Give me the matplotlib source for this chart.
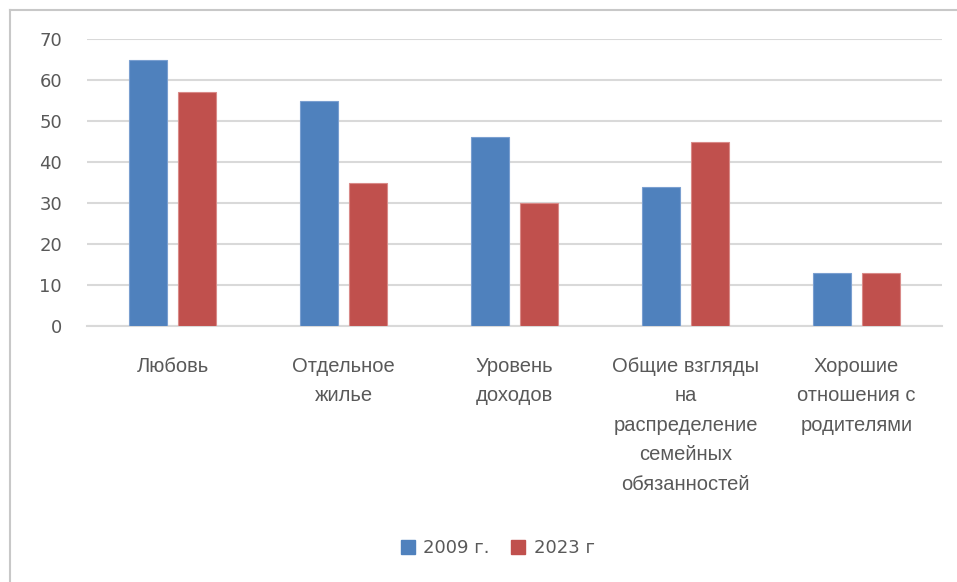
import numpy as np
import matplotlib.pyplot as plt
from matplotlib import font_manager
from matplotlib.lines import Line2D

categories = [
    "Любовь",
    "Отдельное\nжилье",
    "Уровень\nдоходов",
    "Общие взгляды\nна\nраспределение\nсемейных\nобязанностей",
    "Хорошие\nотношения с\nродителями",
]
values_2009 = [65, 55, 46, 34, 13]
values_2023 = [57, 35, 30, 45, 13]
series_labels = ["2009 г.", "2023 г"]
y_ticks = [0, 10, 20, 30, 40, 50, 60, 70]

BLUE = "#4f81bd"
RED = "#c0504d"
GRID = "#d9d9d9"
TEXT = "#595959"

names = {f.name for f in font_manager.fontManager.ttflist}
label_font = "Liberation Sans Narrow" if "Liberation Sans Narrow" in names else "Liberation Sans"

W, H = 957, 582
fig = plt.figure(figsize=(W / 100, H / 100), dpi=100)
ax = fig.add_axes([87 / W, 1 - 326 / H, (942 - 87) / W, (326 - 39) / H])

x = np.arange(len(categories))
bw = 0.222
off = 0.143
ax.bar(x - off, values_2009, bw, color=BLUE, edgecolor="#7a9fd0", linewidth=0.8, zorder=3)
ax.bar(x + off, values_2023, bw, color=RED, edgecolor="#d98a88", linewidth=0.8, zorder=3)

ax.set_xlim(-0.5, len(categories) - 0.5)
ax.set_ylim(0, 70)
ax.set_yticks(y_ticks)
ax.set_yticklabels([str(v) for v in y_ticks], fontsize=13, color=TEXT, family="DejaVu Sans")
ax.yaxis.grid(True, color=GRID, linewidth=1.5, zorder=0)
ax.tick_params(axis="y", length=0, pad=18)
ax.tick_params(axis="x", length=0, pad=22)
ax.set_xticks(x)
ax.set_xticklabels(categories, fontsize=14.5, color=TEXT, family=label_font,
                   linespacing=1.7, multialignment="center")
for s in ["top", "right", "left"]:
    ax.spines[s].set_visible(False)
ax.spines["bottom"].set_color(GRID)
ax.spines["bottom"].set_linewidth(1.5)

handles = [Line2D([], [], marker="s", linestyle="none", markersize=9.5, color=c) for c in (BLUE, RED)]
fig.legend(handles, series_labels, loc="center", bbox_to_anchor=(494 / W, 1 - 548 / H),
           ncol=2, frameon=False, handletextpad=0.05, columnspacing=0.8, handlelength=1.6,
           labelcolor=TEXT, prop={"family": "DejaVu Sans", "size": 13})

# outer chart frame
fig.add_artist(Line2D([10 / W, 1.0], [1 - 10 / H, 1 - 10 / H], color="#c8c8c8", linewidth=1.5))
fig.add_artist(Line2D([10 / W, 10 / W], [0, 1 - 10 / H], color="#c8c8c8", linewidth=1.5))

fig.savefig("out.png", dpi=100)
